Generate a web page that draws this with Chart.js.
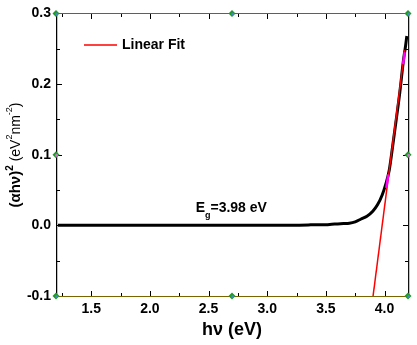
<!DOCTYPE html>
<html>
<head>
<meta charset="utf-8">
<script src="https://cdn.jsdelivr.net/npm/chart.js@4.4.0/dist/chart.umd.min.js"></script>
<style>
  html, body { margin: 0; padding: 0; background: #fff; }
  #box { width: 417px; height: 345px; }
</style>
</head>
<body>
<div id="box"><canvas id="tauc"></canvas></div>
<script>
// measured curve (alpha h nu)^2 vs photon energy
var energy = [1.2, 1.6, 2.0, 2.4, 2.8, 3.2, 3.35, 3.4, 3.5, 3.55, 3.6, 3.65, 3.7, 3.75, 3.8, 3.85, 3.9, 3.94, 3.98, 4.01, 4.04, 4.07, 4.10, 4.13, 4.16, 4.18, 4.19];
var absorb = [0, 0, 0, 0, 0, 0, 0.0005, 0.001, 0.001, 0.0015, 0.002, 0.0025, 0.003, 0.005, 0.009, 0.013, 0.020, 0.029, 0.043, 0.058, 0.078, 0.113, 0.150, 0.188, 0.232, 0.255, 0.268];

// linear fit of the absorption edge
var fitX = [3.9, 4.172];
var fitY = [-0.103, 0.248];

// fit range markers (magenta)
var rangeX = [4.015, 4.032, null, 4.158, 4.172];
var rangeY = [0.053, 0.072, null, 0.228, 0.245];

var xTicks = [1.5, 2.0, 2.5, 3.0, 3.5, 4.0];
var yTicks = [-0.1, 0.0, 0.1, 0.2, 0.3];

// layer handles drawn by the plotting program
var handleX = [1.2, 2.7, 4.2, 1.2, 2.7, 4.2, 1.2, 4.2];
var handleY = [0.3, 0.3, 0.3, -0.1, -0.1, -0.1, 0.1, 0.1];

function toPoints(xs, ys) {
  var pts = [];
  for (var i = 0; i < xs.length; i++) {
    pts.push({ x: xs[i], y: ys[i] });
  }
  return pts;
}

var fontName = "'Liberation Sans', Arial, sans-serif";

var framePlugin = {
  id: 'frame',
  afterDraw: function(chart) {
    var ctx = chart.ctx;
    var a = chart.chartArea;
    var xs = chart.scales.x;
    var ys = chart.scales.y;
    var L = Math.round(a.left), R = Math.round(a.right), T = Math.round(a.top), B = Math.round(a.bottom);
    ctx.save();
    // frame, filled as 1px rects so it stays crisp
    ctx.fillStyle = '#000';
    ctx.fillRect(L, T, 1, B - T + 1);
    ctx.fillStyle = '#e8c830';
    ctx.fillRect(L + 1, T + 1, 1, B - T - 1);
    ctx.fillRect(R + 1, T, 1, B - T + 1);
    ctx.fillStyle = '#111';
    ctx.fillRect(R, T, 1, B - T + 1);
    ctx.fillStyle = '#7a6400';
    ctx.fillRect(L, T, R - L + 1, 1);
    ctx.fillRect(L, B, R - L + 2, 1);

    // inward ticks on all four sides
    ctx.fillStyle = '#000';
    var v, p, len;
    for (v = 1.25; v < 4.2; v += 0.25) {
      p = Math.round(xs.getPixelForValue(v));
      len = Math.abs(v * 2 - Math.round(v * 2)) < 1e-6 ? 5 : 3;
      ctx.fillRect(p, B - len, 1, len);
      ctx.fillRect(p, T + 1, 1, len);
    }
    for (v = -0.05; v < 0.3; v += 0.05) {
      p = Math.round(ys.getPixelForValue(v));
      len = Math.abs(v * 10 - Math.round(v * 10)) < 1e-6 ? 5 : 3;
      ctx.fillRect(L + 1, p, len, 1);
      ctx.fillRect(R - len, p, len, 1);
    }

    // handles
    for (var i = 0; i < handleX.length; i++) {
      var hx = xs.getPixelForValue(handleX[i]);
      var hy = ys.getPixelForValue(handleY[i]);
      ctx.fillStyle = '#1e9a28';
      ctx.beginPath();
      ctx.moveTo(hx, hy - 3.5); ctx.lineTo(hx + 3.5, hy); ctx.lineTo(hx, hy + 3.5); ctx.lineTo(hx - 3.5, hy);
      ctx.closePath();
      ctx.fill();
      ctx.fillStyle = handleY[i] == 0.1 ? '#d070d0' : '#4a80d0';
      ctx.beginPath();
      ctx.arc(hx + 0.5, hy + 0.5, 1.5, 0, Math.PI * 2);
      ctx.fill();
    }

    // legend
    ctx.strokeStyle = '#ff0000';
    ctx.lineWidth = 1.5;
    ctx.beginPath();
    ctx.moveTo(a.left + 28, a.top + 31.5);
    ctx.lineTo(a.left + 61, a.top + 31.5);
    ctx.stroke();
    ctx.fillStyle = '#000';
    ctx.font = 'bold 14px ' + fontName;
    ctx.textBaseline = 'middle';
    ctx.textAlign = 'left';
    ctx.fillText('Linear Fit', a.left + 66, a.top + 32);

    // band gap label
    var ex = xs.getPixelForValue(2.39);
    var ey = ys.getPixelForValue(0.024);
    ctx.font = 'bold 14px ' + fontName;
    ctx.fillText('E', ex, ey);
    var w = ctx.measureText('E').width;
    ctx.font = 'bold 9px ' + fontName;
    ctx.fillText('g', ex + w, ey + 7);
    var wg = ctx.measureText('g').width;
    ctx.font = 'bold 14px ' + fontName;
    ctx.fillText('=3.98 eV', ex + w + wg, ey);

    // y axis title with superscripts
    ctx.translate(16, 155);
    ctx.rotate(-Math.PI / 2);
    var parts = [
      ['(\u03b1h\u03bd)', 'bold 15px ', 0],
      ['2', 'bold 10px ', -6],
      [' (eV', '14px ', 0],
      ['2', '9px ', -6],
      ['nm', '14px ', 0],
      ['-2', '9px ', -6],
      [')', '14px ', 0]
    ];
    var total = 0, j;
    for (j = 0; j < parts.length; j++) {
      ctx.font = parts[j][1] + fontName;
      total += ctx.measureText(parts[j][0]).width;
    }
    var cx = -total / 2;
    for (j = 0; j < parts.length; j++) {
      ctx.font = parts[j][1] + fontName;
      ctx.fillText(parts[j][0], cx, parts[j][2]);
      cx += ctx.measureText(parts[j][0]).width;
    }
    ctx.restore();
  }
};

var tauc = new Chart(document.getElementById('tauc'), {
  type: 'scatter',
  data: {
    datasets: [
      {
        label: 'data',
        data: toPoints(energy, absorb),
        showLine: true,
        borderColor: '#000',
        borderWidth: 3,
        pointRadius: 0,
        cubicInterpolationMode: 'monotone',
        order: 3
      },
      {
        label: 'Linear Fit',
        data: toPoints(fitX, fitY),
        showLine: true,
        borderColor: '#ff0000',
        borderWidth: 1.5,
        pointRadius: 0,
        order: 2
      },
      {
        label: 'range',
        data: toPoints(rangeX, rangeY),
        showLine: true,
        spanGaps: false,
        borderColor: '#ff00ff',
        borderWidth: 2.5,
        pointRadius: 0,
        order: 1
      }
    ]
  },
  options: {
    responsive: true,
    maintainAspectRatio: false,
    animation: false,
    layout: { padding: { left: 0, right: 9, top: 10, bottom: 0 } },
    plugins: {
      legend: { display: false },
      tooltip: { enabled: false }
    },
    scales: {
      x: {
        type: 'linear',
        min: 1.2,
        max: 4.2,
        grid: { display: false, drawTicks: false },
        border: { display: false },
        afterBuildTicks: function(scale) {
          scale.ticks = xTicks.map(function(v) { return { value: v }; });
        },
        afterFit: function(scale) { scale.height = 49; },
        ticks: {
          padding: 5,
          color: '#000',
          font: { family: fontName, size: 14, weight: 'bold' },
          callback: function(v) { return v.toFixed(1); }
        },
        title: {
          display: true,
          text: 'h\u03bd (eV)',
          color: '#000',
          padding: { top: 0, bottom: 4 },
          font: { family: fontName, size: 18, weight: 'bold' }
        }
      },
      y: {
        type: 'linear',
        min: -0.1,
        max: 0.3,
        grid: { display: false, drawTicks: false },
        border: { display: false },
        afterBuildTicks: function(scale) {
          scale.ticks = yTicks.map(function(v) { return { value: v }; });
        },
        afterFit: function(scale) { scale.width = 56; },
        ticks: {
          padding: 5,
          color: '#000',
          font: { family: fontName, size: 14, weight: 'bold' },
          callback: function(v) { return v.toFixed(1); }
        }
      }
    }
  },
  plugins: [framePlugin]
});
</script>
</body>
</html>
